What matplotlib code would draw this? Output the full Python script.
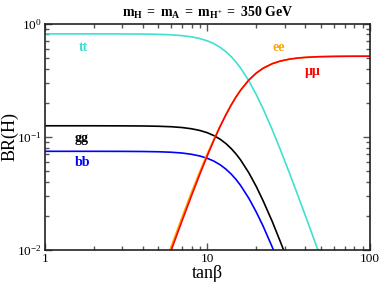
import matplotlib
matplotlib.use("Agg")
import matplotlib.pyplot as plt
from matplotlib.ticker import LogLocator, NullFormatter

plt.rcParams['font.family'] = ['Liberation Serif', 'DejaVu Serif']
plt.rcParams['mathtext.fontset'] = 'custom'
plt.rcParams['mathtext.rm'] = 'Liberation Serif'
plt.rcParams['mathtext.it'] = 'Liberation Serif:italic'
plt.rcParams['mathtext.bf'] = 'Liberation Serif:bold'

# tan(beta) sample points
tanb = [1, 2, 3, 4, 5, 6, 7, 8, 9, 10, 11, 12, 13, 14, 15, 16, 18, 20, 22, 25,
        28, 32, 36, 40, 45, 50, 60, 70, 80, 90, 100]

br_tt = [0.810, 0.8098, 0.8090, 0.8068, 0.8023, 0.7943, 0.7814, 0.7624, 0.7363,
         0.7028, 0.6621, 0.6153, 0.5641, 0.5107, 0.4570, 0.4050, 0.3113, 0.2354,
         0.1771, 0.1164, 0.0780, 0.0476, 0.0304, 0.0202, 0.0127, 0.00841,
         0.00408, 0.0022, 0.0013, 0.00081, 0.00053]

br_gg = [0.1250, 0.1250, 0.1248, 0.1245, 0.1238, 0.1226, 0.1206, 0.1176, 0.1136,
         0.1085, 0.1022, 0.0950, 0.0871, 0.0788, 0.0705, 0.0625, 0.0480, 0.0363,
         0.0273, 0.0180, 0.0120, 0.00735, 0.00470, 0.00312, 0.00197, 0.0013,
         0.00063, 0.00034, 0.0002, 0.000125, 0.000082]

br_bb = [0.0744, 0.0744, 0.0743, 0.0741, 0.0737, 0.0730, 0.0718, 0.0700, 0.0676,
         0.0645, 0.0608, 0.0565, 0.0518, 0.0469, 0.0420, 0.0372, 0.0286, 0.0216,
         0.0163, 0.0107, 0.00717, 0.00438, 0.00279, 0.00186, 0.00117, 0.00077,
         0.00037, 0.0002, 0.00012, 0.000074, 0.000049]

br_mumu = [7.9e-6, 1.26e-4, 6.36e-4, 2.004e-3, 4.865e-3, 9.99e-3, 0.0182, 0.0303,
           0.0469, 0.0682, 0.0940, 0.1238, 0.1563, 0.1903, 0.2244, 0.2575, 0.3171,
           0.3653, 0.4024, 0.4410, 0.4654, 0.4847, 0.4957, 0.5021, 0.5069, 0.5097,
           0.5124, 0.5136, 0.5142, 0.5145, 0.5147]

br_ee = [8.5e-6, 1.36e-4, 6.87e-4, 2.164e-3, 5.25e-3, 0.01077, 0.0196, 0.0325,
         0.0495, 0.0710, 0.0960, 0.1250, 0.1566, 0.1903, 0.2244, 0.2575, 0.3171,
         0.3653, 0.4024, 0.4410, 0.4654, 0.4847, 0.4957, 0.5021, 0.5069, 0.5097,
         0.5124, 0.5136, 0.5142, 0.5145, 0.5147]

fig = plt.figure(figsize=(3.82, 2.85), dpi=100)
ax = fig.add_axes([0.117, 0.1228, 0.8516, 0.7947])

lw = 1.2
ax.plot(tanb, br_tt, color='#40E0D0', lw=lw)
ax.plot(tanb, br_gg, color='black', lw=lw)
ax.plot(tanb, br_bb, color='#0000FF', lw=lw)
ax.plot(tanb, br_ee, color='#FFA500', lw=lw)
ax.plot(tanb, br_mumu, color='#FF0000', lw=lw)

ax.set_xscale('log')
ax.set_yscale('log')
ax.set_xlim(1, 100)
ax.set_ylim(1e-2, 1)

ax.set_xticks([1, 10, 100])
ax.set_xticklabels(['1', '10', '100'])
ax.set_yticks([1e-2, 1e-1, 1])
ax.set_yticklabels([r'$10^{-2}$', r'$10^{-1}$', r'$10^{0}$'])
ax.xaxis.set_minor_locator(LogLocator(base=10, subs=range(2, 10)))
ax.yaxis.set_minor_locator(LogLocator(base=10, subs=range(2, 10)))
ax.xaxis.set_minor_formatter(NullFormatter())
ax.yaxis.set_minor_formatter(NullFormatter())

ax.tick_params(which='both', direction='in', top=True, right=True,
               color='#555555', width=1.0)
ax.tick_params(which='major', length=5.0, labelsize=9.5, pad=2)
ax.tick_params(which='minor', length=3.2)
for s in ax.spines.values():
    s.set_linewidth(1.2)
    s.set_color('#222222')

ax.set_xlabel('tanβ', fontsize=13)
ax.xaxis.set_label_coords(0.5, -0.068)
ax.set_ylabel('BR(H)', fontsize=13)
ax.yaxis.set_label_coords(-0.082, 0.5)

fig.text(0.543, 0.955, r'$\mathbf{m_{H}\ =\ m_{A}\ =\ m_{H^{+}}\ =\ 350\ GeV}$',
         ha='center', va='center', fontsize=10)

lab = dict(transform=ax.transAxes, ha='center', va='center', fontsize=10,
           fontweight='bold')
ax.text(0.118, 0.896, 'tt', color='#40E0D0', **lab)
ax.text(0.112, 0.4945, 'gg', color='black', **lab)
ax.text(0.115, 0.3885, 'bb', color='#0000FF', **lab)
ax.text(0.719, 0.892, 'ee', color='#FFA500', **lab)
ax.text(0.825, 0.786, 'μμ', color='#FF0000', **lab)

fig.savefig('out.png', dpi=100)
